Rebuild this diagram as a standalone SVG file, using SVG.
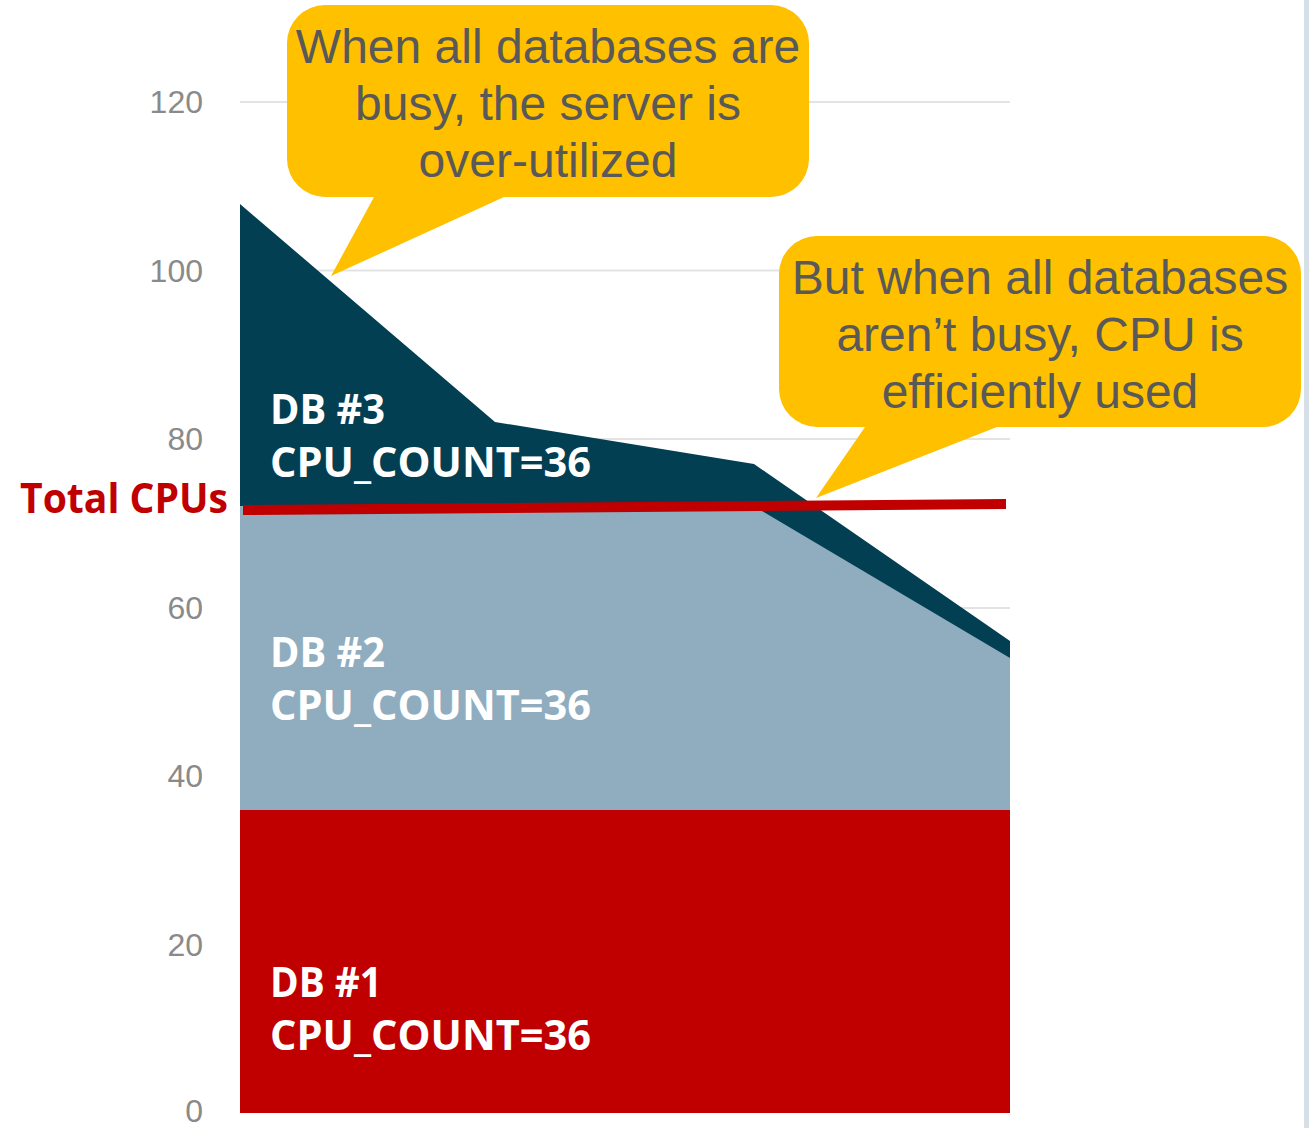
<svg xmlns="http://www.w3.org/2000/svg" width="1309" height="1128" viewBox="0 0 1309 1128">
  <style>
    .grid { stroke: #e3e3e3; stroke-width: 2; fill: none; }
    .tick { font-family: "Liberation Sans", Arial, sans-serif; font-size: 32px; fill: #8a8a8a; text-anchor: end; }
    .dblabel { font-family: "Open Sans", "Liberation Sans", sans-serif; font-weight: 700; font-size: 41px; fill: #ffffff; }
    .callout { fill: #ffc000; }
    .callout-text { font-family: "Liberation Sans", Arial, sans-serif; font-size: 48px; fill: #595959; text-anchor: middle; }
  </style>

  <rect x="0" y="0" width="1309" height="1128" fill="#ffffff"/>
  <!-- slide edge strip -->
  <rect x="1304" y="0" width="5" height="1128" fill="#d6dee6"/>

  <!-- horizontal gridlines every 20 CPUs -->
  <g id="gridlines">
    <line class="grid" x1="240" y1="102" x2="1010" y2="102"/>
    <line class="grid" x1="240" y1="270.5" x2="1010" y2="270.5"/>
    <line class="grid" x1="240" y1="439" x2="1010" y2="439"/>
    <line class="grid" x1="240" y1="608" x2="1010" y2="608"/>
    <line class="grid" x1="240" y1="776" x2="1010" y2="776"/>
    <line class="grid" x1="240" y1="945" x2="1010" y2="945"/>
  </g>

  <!-- y axis tick labels -->
  <g id="axis-labels">
    <text class="tick" x="203" y="113">120</text>
    <text class="tick" x="203" y="282">100</text>
    <text class="tick" x="203" y="450">80</text>
    <text class="tick" x="203" y="619">60</text>
    <text class="tick" x="203" y="787">40</text>
    <text class="tick" x="203" y="956">20</text>
    <text class="tick" x="203" y="1122">0</text>
  </g>

  <!-- stacked CPU usage areas -->
  <g id="db3-area">
    <polygon points="240,204 495,422 754,464 1010,641 1010,1113 240,1113" fill="#023f52"/>
  </g>
  <g id="db2-area">
    <polygon points="240,506 757,508 1010,658 1010,1113 240,1113" fill="#8fadbf"/>
  </g>
  <g id="db1-area">
    <rect x="240" y="810" width="770" height="303" fill="#c00000"/>
  </g>

  <!-- total CPU capacity line -->
  <g id="total-cpus">
    <polygon points="243,505 1006,499 1006,509 243,515" fill="#c00000"/>
    <text x="20" y="513" font-family="'Open Sans', 'Liberation Sans', sans-serif" font-weight="700" font-size="41" fill="#c00000" textLength="208" lengthAdjust="spacingAndGlyphs">Total CPUs</text>
  </g>

  <!-- series labels -->
  <g id="db3-label">
    <text class="dblabel" x="270" y="424" textLength="115" lengthAdjust="spacingAndGlyphs">DB #3</text>
    <text class="dblabel" x="270" y="477" textLength="321" lengthAdjust="spacingAndGlyphs">CPU_COUNT=36</text>
  </g>
  <g id="db2-label">
    <text class="dblabel" x="270" y="667" textLength="115" lengthAdjust="spacingAndGlyphs">DB #2</text>
    <text class="dblabel" x="270" y="720" textLength="321" lengthAdjust="spacingAndGlyphs">CPU_COUNT=36</text>
  </g>
  <g id="db1-label">
    <text class="dblabel" x="270" y="997" textLength="112" lengthAdjust="spacingAndGlyphs">DB #1</text>
    <text class="dblabel" x="270" y="1050" textLength="321" lengthAdjust="spacingAndGlyphs">CPU_COUNT=36</text>
  </g>

  <!-- callout: all databases busy -->
  <g id="callout-busy">
    <path class="callout" d="M 325,5 H 771 A 38 38 0 0 1 809,43 V 159 A 38 38 0 0 1 771,197 H 504 L 331,276 L 374,197 H 325 A 38 38 0 0 1 287,159 V 43 A 38 38 0 0 1 325,5 Z"/>
    <text class="callout-text" x="548" y="63">When all databases are</text>
    <text class="callout-text" x="548" y="120">busy, the server is</text>
    <text class="callout-text" x="548" y="177">over-utilized</text>
  </g>

  <!-- callout: not all databases busy -->
  <g id="callout-efficient">
    <path class="callout" d="M 817,236 H 1263 A 38 38 0 0 1 1301,274 V 389 A 38 38 0 0 1 1263,427 H 997 L 816,498 L 865,427 H 817 A 38 38 0 0 1 779,389 V 274 A 38 38 0 0 1 817,236 Z"/>
    <text class="callout-text" x="1040" y="294">But when all databases</text>
    <text class="callout-text" x="1040" y="351">aren’t busy, CPU is</text>
    <text class="callout-text" x="1040" y="408">efficiently used</text>
  </g>
</svg>
